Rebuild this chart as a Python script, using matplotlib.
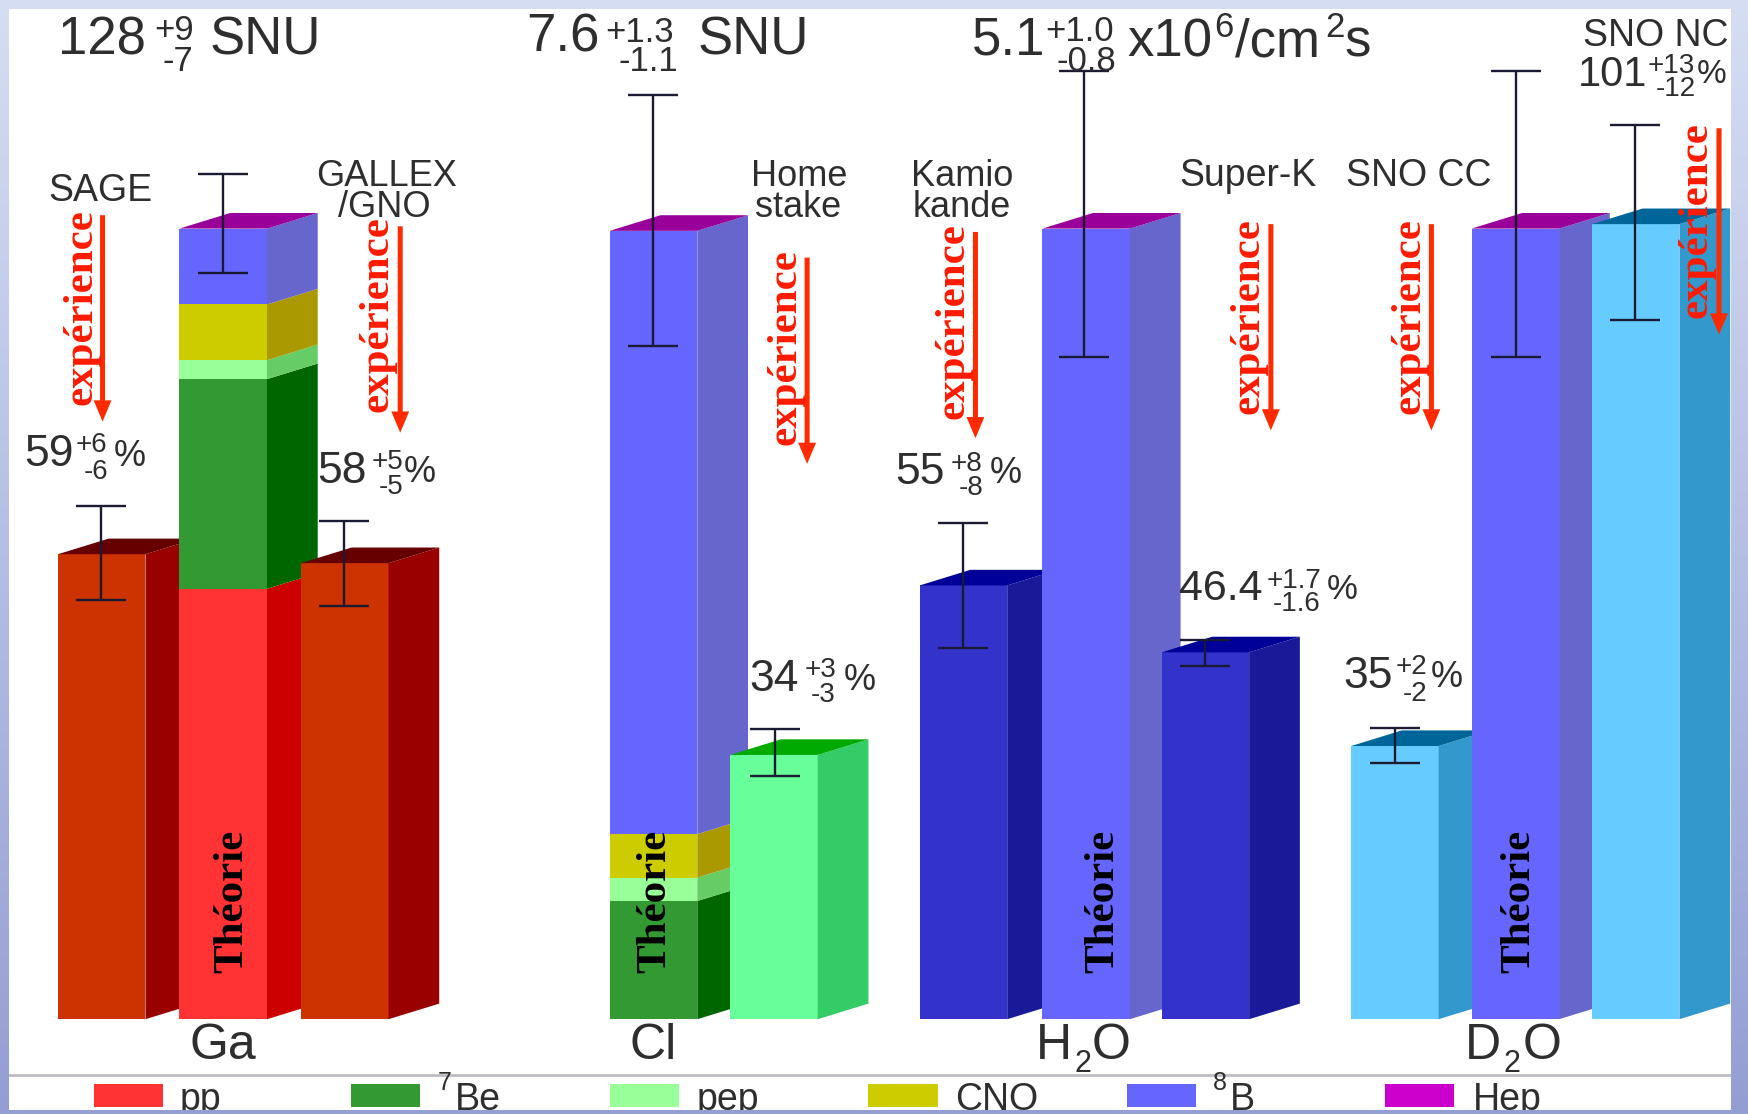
import numpy as np
import matplotlib
matplotlib.use('Agg')
import matplotlib.pyplot as plt
from matplotlib.patches import Polygon, Rectangle

# heights above the baseline
ga_theory = [386, 574, 591, 641, 709]
cl_theory = [0, 106, 127, 166, 707]
water_theory = [0, 0, 0, 0, 709]

exp_names = ['SAGE', 'GALLEX', 'Homestake', 'Kamiokande', 'Super-K', 'SNO CC', 'SNO NC']
exp_heights = [417, 409, 237, 389, 329, 245, 713]

err_names = ['SAGE', 'Ga', 'GALLEX', 'Cl', 'Homestake', 'Kamiokande', 'H2O', 'Super-K', 'SNO CC', 'D2O', 'SNO NC']
err_low = [376, 669, 371, 604, 218, 333, 594, 317, 230, 594, 627]
err_high = [460, 758, 447, 829, 260, 445, 850, 340, 261, 850, 802]

source_names = ['pp', '7Be', 'pep', 'CNO', '8B', 'Hep']
source_front = ['#FF3333', '#339933', '#99FF99', '#CCCC00', '#6666FF', '#CC00CC']
source_side = ['#CC0000', '#006600', '#66CC66', '#AA9900', '#6666CC', '#990099']
hep_top = '#990099'

BASE = 914
W = 78.5
DX = 45.5
DY = 14
FONT = 'Liberation Sans'
GREY = '#2E2E2E'


def py(y):
    return BASE - y


def txt(x, y, s, size=30, ha='left', color=GREY, **kw):
    ax.text(x, py(y + 3), s, fontsize=size, ha=ha, va='center', color=color, family=FONT, zorder=8, **kw)


def side(x, h0, h1, color, z):
    ax.add_patch(Polygon([(x + W, h0), (x + W + DX, h0 + DY), (x + W + DX, h1 + DY), (x + W, h1)],
                         closed=True, fc=color, ec='none', zorder=z))


def top(x, h, color, z):
    ax.add_patch(Polygon([(x, h), (x + DX, h + DY), (x + W + DX, h + DY), (x + W, h)],
                         closed=True, fc=color, ec='none', zorder=z))


def exp_bar(x, h, front, sidec, topc, z):
    ax.bar(x, h, W, align='edge', color=front, zorder=z)
    side(x, 0, h, sidec, z)
    top(x, h, topc, z)


def theory_bar(x, stack, z):
    prev = 0
    for h, f, s in zip(stack, source_front, source_side):
        if h > prev:
            ax.bar(x, h - prev, W, bottom=prev, align='edge', color=f, zorder=z)
            side(x, prev, h, s, z)
            prev = h
    top(x, prev, hep_top, z)


fig = plt.figure(figsize=(17.48, 11.14), dpi=100, facecolor='white')
ax = fig.add_axes([0, 0, 1, 1])
ax.set_xlim(0, 1568)
ax.set_ylim(BASE - 999, BASE)
ax.axis('off')

# bars, left to right so that each one hides the side of the last
exp_bar(52, exp_heights[0], '#CC3300', '#990000', '#660000', 2)
theory_bar(161, ga_theory, 3)
exp_bar(270, exp_heights[1], '#CC3300', '#990000', '#660000', 4)

theory_bar(547, cl_theory, 2)
exp_bar(655, exp_heights[2], '#66FF99', '#33CC66', '#00AA00', 3)

exp_bar(825, exp_heights[3], '#3333CC', '#1A1A99', '#000099', 2)
theory_bar(935, water_theory, 3)
exp_bar(1042, exp_heights[4], '#3333CC', '#1A1A99', '#000099', 4)

exp_bar(1212, exp_heights[5], '#66CCFF', '#3399CC', '#006699', 2)
theory_bar(1320, water_theory, 3)
exp_bar(1428, exp_heights[6], '#66CCFF', '#3399CC', '#006699', 4)

# error bars
err_x = [91, 200, 309, 586, 695, 864, 972, 1081, 1251, 1360, 1467]
for x, lo, hi in zip(err_x, err_low, err_high):
    ax.errorbar([x], [lo], yerr=[[0], [hi - lo]], color='#1A1A33', lw=1.7, capsize=18, capthick=1.7, zorder=6)

# red arrows and labels
arrow_x = [92, 359, 724, 875, 1140, 1284, 1542]
arrow_top = [193, 203, 231, 208, 201, 201, 115]
text_x = [73, 339, 705, 855, 1120, 1264, 1522]
text_mid = [275, 282, 311, 288, 283, 283, 197]
for x, t, tx, tm in zip(arrow_x, arrow_top, text_x, text_mid):
    ax.arrow(x, py(t), 0, -185, width=4.5, head_width=16, head_length=19, length_includes_head=True,
             fc='#FF2A00', ec='none', zorder=7)
    ax.text(tx, py(tm), 'expérience', rotation=90, fontsize=31, fontweight='bold', family='Liberation Serif',
            color='#FF1A00', ha='center', va='center', zorder=8)

for x in [208, 588, 990, 1363]:
    ax.text(x, py(808), 'Théorie', rotation=90, fontsize=31, fontweight='bold', family='Liberation Serif',
            color='black', ha='center', va='center', zorder=8)

# top headline values
txt(52, 33, '128', 38)
txt(138, 24, '+9', 25)
txt(146, 52, '-7', 25)
txt(188, 33, 'SNU', 38)
txt(472, 31, '7.6', 38)
txt(543, 26, '+1.3', 25)
txt(555, 52, '-1.1', 25)
txt(626, 33, 'SNU', 38)
txt(872, 33, '5.1', 38)
txt(938, 25, '+1.0', 25)
txt(948, 52, '-0.8', 25)
txt(1011, 35, 'x10', 38)
txt(1089, 22, '6', 25)
txt(1108, 35, '/cm', 38)
txt(1189, 22, '2', 25)
txt(1206, 35, 's', 38)
txt(1420, 29, 'SNO NC', 27)
txt(1415, 64, '101', 30)
txt(1478, 56, '+13', 20)
txt(1485, 77, '-12', 20)
txt(1522, 64, '%', 24)

# experiment names
txt(90, 168, 'SAGE', 27, ha='center')
txt(347, 155, 'GALLEX', 26, ha='center')
txt(345, 183, '/GNO', 26, ha='center')
txt(717, 155, 'Home', 26, ha='center')
txt(716, 183, 'stake', 26, ha='center')
txt(863, 155, 'Kamio', 26, ha='center')
txt(863, 183, 'kande', 26, ha='center')
txt(1119, 155, 'Super-K', 27, ha='center')
txt(1273, 155, 'SNO CC', 27, ha='center')

# measured percentages
txt(22, 405, '59', 32)
txt(68, 396, '+6', 20)
txt(75, 420, '-6', 20)
txt(102, 406, '%', 26)
txt(285, 420, '58', 32)
txt(333, 411, '+5', 20)
txt(340, 434, '-5', 20)
txt(362, 421, '%', 26)
txt(672, 606, '34', 32)
txt(722, 598, '+3', 20)
txt(727, 620, '-3', 20)
txt(757, 607, '%', 26)
txt(803, 421, '55', 32)
txt(853, 413, '+8', 20)
txt(860, 435, '-8', 20)
txt(888, 422, '%', 26)
txt(1058, 525, '46.4', 31)
txt(1136, 518, '+1.7', 20)
txt(1142, 539, '-1.6', 20)
txt(1190, 526, '%', 25)
txt(1205, 604, '35', 32)
txt(1252, 595, '+2', 20)
txt(1258, 619, '-2', 20)
txt(1283, 605, '%', 26)

# group names below the bars
txt(200, 935, 'Ga', 36, ha='center')
txt(586, 935, 'Cl', 36, ha='center')
txt(929, 935, 'H', 36)
txt(964, 951, '2', 22)
txt(979, 935, 'O', 36)
txt(1314, 935, 'D', 36)
txt(1349, 951, '2', 22)
txt(1366, 935, 'O', 36)

# legend strip
ax.axhline(py(964), color='#BDBDC4', lw=2, zorder=1)
legend_x = [84, 315, 547, 779, 1011, 1242]
for x, c in zip(legend_x, source_front):
    ax.add_patch(Rectangle((x, py(993)), 62, 21, fc=c, ec='none', zorder=2))
txt(161, 983, 'pp', 27)
txt(393, 968, '7', 18)
txt(408, 983, 'Be', 27)
txt(625, 983, 'pep', 27)
txt(857, 983, 'CNO', 27)
txt(1088, 968, '8', 18)
txt(1103, 983, 'B', 27)
txt(1321, 983, 'Hep', 27)

# slide frame around the picture, goes on top so it clips whatever runs over
c_top = np.array([0.84, 0.87, 0.95])
c_bot = np.array([0.58, 0.62, 0.83])
frame = np.ones((999, 1568, 4))
frame[:, :, :3] = np.linspace(c_top, c_bot, 999)[:, None, :]
frame[8:995, 8:1553, 3] = 0
ax.imshow(frame, extent=(0, 1568, BASE - 999, BASE), origin='upper', aspect='auto', zorder=10, interpolation='nearest')
ax.set_xlim(0, 1568)
ax.set_ylim(BASE - 999, BASE)

fig.savefig('out.png', dpi=100)
